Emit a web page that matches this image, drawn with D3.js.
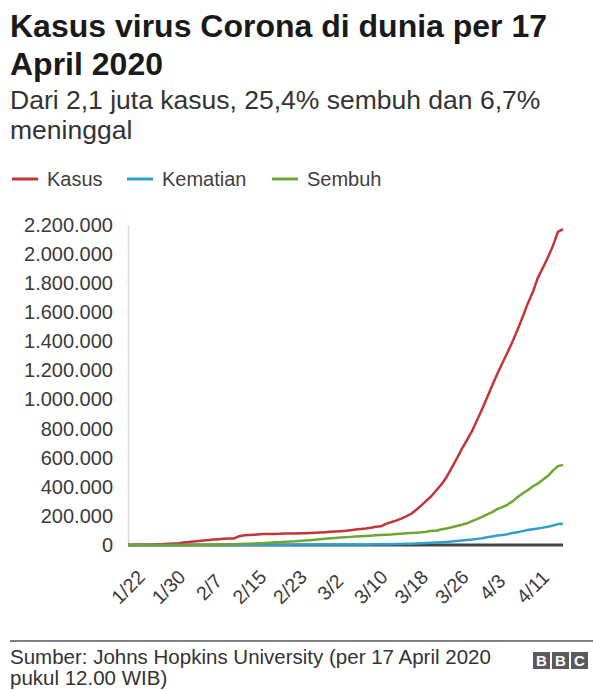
<!DOCTYPE html>
<html>
<head>
<meta charset="utf-8">
<script src="https://cdn.jsdelivr.net/npm/d3@7"></script>
<style>
  body { margin: 0; background: #fff; }
  svg { display: block; font-family: "Liberation Sans", Arial, Helvetica, sans-serif; }
</style>
</head>
<body>
<div id="chart"></div>
<script>
// first day of the series, one value per day up to 17 April
const startDate = "2020-01-22";

const kasus = [
  555, 654, 941, 1434, 2118, 2927, 5578, 6166, 8234, 9927,
  12038, 16787, 19881, 23892, 27635, 30794, 34391, 37120, 40150, 42762,
  44802, 45221, 60368, 66885, 69030, 71224, 73258, 75136, 75639, 76197,
  76819, 78572, 78958, 79561, 80406, 81388, 82746, 84112, 86011, 88369,
  90306, 92840, 95120, 97886, 101801, 105847, 109821, 113590, 118620, 125875,
  128352, 145205, 156101, 167454, 181574, 197102, 214821, 242570, 272208, 304507,
  336953, 378235, 418045, 467653, 529591, 593291, 660706, 720117, 782365, 857487,
  932605, 1013466, 1095917, 1176060, 1249754, 1321481, 1396476, 1478717, 1565278, 1657526,
  1735650, 1834721, 1904838, 1976191, 2056054, 2152437, 2172000
];

const kematian = [
  17, 18, 26, 42, 56, 82, 131, 133, 171, 213,
  259, 362, 426, 492, 564, 634, 719, 806, 906, 1013,
  1113, 1118, 1371, 1523, 1666, 1770, 1868, 2007, 2122, 2247,
  2251, 2458, 2469, 2629, 2708, 2770, 2814, 2872, 2941, 2996,
  3085, 3160, 3254, 3348, 3460, 3558, 3802, 3988, 4262, 4615,
  4720, 5404, 5819, 6440, 7126, 7905, 8733, 9867, 11299, 12973,
  14623, 16497, 18615, 21181, 23970, 27198, 30652, 33925, 37582, 42107,
  46809, 52983, 58787, 64606, 69374, 74565, 81865, 88338, 95455, 102525,
  108503, 114091, 119482, 125984, 134177, 143800, 146000
];

const sembuh = [
  28, 30, 36, 39, 52, 61, 107, 126, 143, 222,
  284, 472, 623, 852, 1124, 1487, 2011, 2616, 3244, 3946,
  4683, 5150, 6295, 8058, 9395, 10865, 12583, 14352, 16121, 18177,
  18890, 22886, 23394, 25227, 27905, 30384, 33277, 36711, 39782, 42716,
  45602, 48228, 51170, 53796, 55865, 58358, 60694, 62494, 64404, 67003,
  68324, 70251, 72624, 76034, 78088, 80840, 83207, 84854, 87256, 91499,
  97704, 98334, 107990, 113770, 122150, 130915, 139415, 149082, 164566, 178034,
  193177, 210263, 225796, 246152, 260012, 276515, 300054, 328661, 353975, 376096,
  402110, 421722, 448655, 474261, 511019, 542107, 551000
];

const seriesNames = ["Kasus", "Kematian", "Sembuh"];
const seriesColors = ["#c2363a", "#2f9fcc", "#6fa631"];
const yTicks = [0, 200000, 400000, 600000, 800000, 1000000, 1200000, 1400000, 1600000, 1800000, 2000000, 2200000];
const xTickLabels = ["1/22", "1/30", "2/7", "2/15", "2/23", "3/2", "3/10", "3/18", "3/26", "4/3", "4/11"];

const width = 593, height = 690;
const plotLeft = 128, plotRight = 563, plotTop = 225, plotBottom = 545;

const parseDay = d3.timeParse("%Y-%m-%d");
const parseTick = d3.timeParse("%Y-%m/%d");
const start = parseDay(startDate);
const dates = kasus.map((v, i) => d3.timeDay.offset(start, i));

const idLocale = d3.formatLocale({ decimal: ",", thousands: ".", grouping: [3], currency: ["Rp", ""] });
const fmt = idLocale.format(",");

const svg = d3.select("#chart").append("svg")
  .attr("width", width)
  .attr("height", height);

// titles
svg.append("text").attr("x", 10).attr("y", 37)
  .style("font-size", "32px").style("font-weight", "bold").style("fill", "#1a1a1a")
  .text("Kasus virus Corona di dunia per 17");
svg.append("text").attr("x", 10).attr("y", 75)
  .style("font-size", "32px").style("font-weight", "bold").style("fill", "#1a1a1a")
  .text("April 2020");
svg.append("text").attr("x", 10).attr("y", 109)
  .style("font-size", "26.5px").style("fill", "#333")
  .text("Dari 2,1 juta kasus, 25,4% sembuh dan 6,7%");
svg.append("text").attr("x", 10).attr("y", 139)
  .style("font-size", "26.5px").style("fill", "#333")
  .text("meninggal");

// legend
const legendX = [12, 127, 272];
const legend = svg.selectAll(".legend")
  .data(seriesNames)
  .join("g")
  .attr("class", "legend")
  .attr("transform", (d, i) => `translate(${legendX[i]},179)`);
legend.append("line")
  .attr("x1", 0).attr("x2", 26)
  .attr("stroke", (d, i) => seriesColors[i])
  .attr("stroke-width", 3);
legend.append("text")
  .attr("x", 35).attr("dy", "0.35em")
  .style("font-size", "20px").style("fill", "#404040")
  .text(d => d);

const x = d3.scaleTime()
  .domain([dates[0], dates[dates.length - 1]])
  .range([plotLeft, plotRight]);

const y = d3.scaleLinear()
  .domain([0, 2200000])
  .range([plotBottom, plotTop]);

// y axis
const yAxis = svg.append("g")
  .attr("transform", `translate(${plotLeft},0)`)
  .call(d3.axisLeft(y).tickValues(yTicks).tickSize(0).tickPadding(15).tickFormat(fmt));
yAxis.select(".domain").attr("stroke", "#d9d9d9").attr("stroke-width", 1.5);
yAxis.selectAll("text")
  .style("font-size", "20px").style("fill", "#3a3a3a")
  .style("font-family", "Liberation Sans, Arial, sans-serif");

// baseline
svg.append("line")
  .attr("x1", x(dates[0])).attr("x2", x(dates[dates.length - 1]))
  .attr("y1", y(0)).attr("y2", y(0))
  .attr("stroke", "#444").attr("stroke-width", 3);

// x labels
svg.selectAll(".xlab")
  .data(xTickLabels)
  .join("text")
  .attr("class", "xlab")
  .attr("transform", d => `translate(${x(parseTick("2020-" + d))},587) rotate(-45)`)
  .attr("text-anchor", "middle")
  .attr("dy", "0.35em")
  .style("font-size", "19.5px").style("fill", "#3a3a3a")
  .text(d => d);

// lines
const line = d3.line()
  .x((d, i) => x(dates[i]))
  .y(d => y(d));

const drawOrder = [
  { values: kasus, color: seriesColors[0] },
  { values: kematian, color: seriesColors[1] },
  { values: sembuh, color: seriesColors[2] }
];

svg.selectAll(".series")
  .data(drawOrder)
  .join("path")
  .attr("class", "series")
  .attr("d", d => line(d.values))
  .attr("fill", "none")
  .attr("stroke", d => d.color)
  .attr("stroke-width", 2.5)
  .attr("stroke-linejoin", "round");

// footer
svg.append("line")
  .attr("x1", 10).attr("x2", width)
  .attr("y1", 641).attr("y2", 641)
  .attr("stroke", "#555").attr("stroke-width", 1.5);
svg.append("text").attr("x", 10).attr("y", 664)
  .style("font-size", "20.5px").style("fill", "#333")
  .text("Sumber: Johns Hopkins University (per 17 April 2020");
svg.append("text").attr("x", 10).attr("y", 685)
  .style("font-size", "20.5px").style("fill", "#333")
  .text("pukul 12.00 WIB)");

// BBC blocks
const logo = svg.append("g").attr("transform", "translate(533,652)");
logo.selectAll("rect")
  .data(["B", "B", "C"])
  .join("rect")
  .attr("x", (d, i) => i * 19).attr("y", 0)
  .attr("width", 17).attr("height", 17)
  .attr("fill", "#5a5a5a");
logo.selectAll("text")
  .data(["B", "B", "C"])
  .join("text")
  .attr("x", (d, i) => i * 19 + 8.5).attr("y", 14)
  .attr("text-anchor", "middle")
  .style("font-size", "15px").style("font-weight", "bold").style("fill", "#fff")
  .text(d => d);
</script>
</body>
</html>
